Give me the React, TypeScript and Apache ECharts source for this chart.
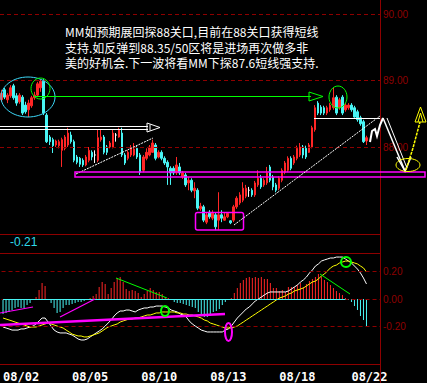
import React, { useEffect, useRef } from 'react';
import * as echarts from 'echarts';

// [open, close, low, high]
const candles: number[][] = [
  [88.71, 88.81, 88.68, 88.86], [88.86, 88.75, 88.72, 88.89], [88.71, 88.78, 88.66, 88.81], [88.77, 88.89, 88.74, 88.93],
  [88.92, 88.74, 88.71, 88.95], [88.77, 88.66, 88.62, 88.81], [88.68, 88.78, 88.65, 88.81], [88.75, 88.51, 88.48, 88.78],
  [88.63, 88.53, 88.50, 88.68], [88.56, 88.66, 88.45, 88.71], [88.62, 88.74, 88.59, 88.77], [88.74, 88.78, 88.71, 88.83],
  [88.78, 88.95, 88.75, 88.98], [88.89, 88.99, 88.83, 89.02], [88.99, 88.51, 88.48, 89.02], [88.48, 88.08, 88.06, 88.51],
  [88.15, 88.08, 88.03, 88.18], [88.11, 88.02, 87.91, 88.14], [88.03, 88.09, 88.00, 88.11], [88.02, 88.08, 87.98, 88.11],
  [87.95, 88.11, 87.70, 88.14], [87.98, 88.15, 87.95, 88.18], [88.03, 88.21, 88.00, 88.29], [88.18, 88.08, 88.05, 88.23],
  [88.08, 87.80, 87.77, 88.11], [87.85, 87.77, 87.74, 87.88], [87.83, 87.74, 87.70, 87.85], [87.80, 87.73, 87.70, 87.83],
  [87.73, 87.85, 87.71, 87.88], [87.80, 87.95, 87.77, 88.00], [87.92, 87.85, 87.80, 87.95], [87.88, 87.88, 87.76, 87.95],
  [87.80, 88.14, 87.77, 88.26], [88.11, 88.15, 88.08, 88.26], [88.15, 87.92, 87.89, 88.18], [88.00, 87.92, 87.88, 88.03],
  [88.00, 88.06, 87.98, 88.09], [88.00, 88.21, 87.98, 88.26], [88.18, 88.18, 88.08, 88.21], [88.15, 88.26, 88.14, 88.29],
  [88.21, 87.88, 87.85, 88.29], [87.88, 87.76, 87.73, 87.91], [87.83, 87.92, 87.80, 87.95], [87.88, 87.98, 87.85, 88.03],
  [87.88, 87.97, 87.86, 88.06], [87.98, 87.85, 87.82, 88.02], [87.88, 87.62, 87.58, 87.91], [87.65, 87.85, 87.62, 87.88],
  [87.83, 87.92, 87.80, 87.98], [87.88, 88.00, 87.86, 88.03], [87.92, 88.06, 87.91, 88.11], [88.03, 87.83, 87.80, 88.06],
  [87.85, 87.92, 87.83, 87.95], [87.92, 87.83, 87.80, 87.95], [87.83, 87.76, 87.73, 87.86], [87.77, 87.70, 87.43, 87.80],
  [87.68, 87.61, 87.43, 87.71], [87.68, 87.61, 87.58, 87.71], [87.61, 87.73, 87.58, 87.85], [87.70, 87.61, 87.58, 87.76],
  [87.55, 87.61, 87.52, 87.64], [87.58, 87.43, 87.40, 87.61], [87.46, 87.50, 87.35, 87.55], [87.50, 87.35, 87.32, 87.53],
  [87.34, 87.38, 87.23, 87.47], [87.35, 87.08, 87.05, 87.38], [87.07, 87.11, 87.04, 87.16], [87.10, 86.90, 86.87, 87.13],
  [86.87, 86.98, 86.84, 87.02], [87.02, 86.95, 86.92, 87.05], [86.93, 87.01, 86.90, 87.05], [86.98, 86.80, 86.75, 87.01],
  [86.90, 86.98, 86.75, 87.32], [86.98, 86.93, 86.87, 87.05], [86.90, 86.95, 86.89, 87.01], [86.95, 87.00, 86.93, 87.02],
  [86.89, 86.86, 86.84, 86.90], [86.90, 87.10, 86.87, 87.13], [87.10, 87.23, 87.07, 87.26], [87.16, 87.28, 87.13, 87.32],
  [87.20, 87.38, 87.17, 87.47], [87.26, 87.38, 87.23, 87.43], [87.35, 87.35, 87.25, 87.40], [87.35, 87.28, 87.25, 87.38],
  [87.28, 87.46, 87.25, 87.49], [87.43, 87.53, 87.40, 87.65], [87.53, 87.40, 87.37, 87.58], [87.43, 87.50, 87.40, 87.53],
  [87.46, 87.61, 87.43, 87.70], [87.70, 87.50, 87.47, 87.73], [87.55, 87.40, 87.35, 87.58], [87.43, 87.35, 87.32, 87.46],
  [87.38, 87.53, 87.35, 87.56], [87.50, 87.65, 87.47, 87.68], [87.62, 87.76, 87.59, 87.79], [87.65, 87.83, 87.62, 87.86],
  [87.83, 87.68, 87.65, 87.86], [87.76, 87.85, 87.73, 87.88], [87.83, 87.98, 87.80, 88.02], [87.88, 88.00, 87.85, 88.06],
  [88.00, 87.88, 87.83, 88.03], [87.98, 87.85, 87.82, 88.02], [87.92, 88.03, 87.91, 88.06], [88.00, 88.29, 87.98, 88.32],
  [88.26, 88.59, 88.23, 88.63], [88.66, 88.51, 88.48, 88.69], [88.60, 88.51, 88.48, 88.63], [88.59, 88.51, 88.48, 88.62],
  [88.51, 88.59, 88.48, 88.62], [88.56, 88.63, 88.53, 88.66], [88.59, 88.74, 88.56, 88.89], [88.75, 88.51, 88.48, 88.78],
  [88.59, 88.71, 88.56, 88.74], [88.75, 88.51, 88.48, 88.78], [88.56, 88.63, 88.53, 88.66], [88.59, 88.63, 88.56, 88.66],
  [88.63, 88.56, 88.53, 88.66], [88.59, 88.45, 88.44, 88.62], [88.53, 88.41, 88.38, 88.56], [88.44, 88.35, 88.32, 88.47],
  [88.38, 88.08, 88.06, 88.41], [88.09, 88.14, 88.03, 88.17],
];

const dif = [
  -0.203, -0.210, -0.217, -0.225, -0.225, -0.225, -0.217, -0.217, -0.210, -0.203,
  -0.196, -0.181, -0.159, -0.138, -0.138, -0.167, -0.196, -0.225, -0.239, -0.246,
  -0.246, -0.246, -0.254, -0.261, -0.275, -0.290, -0.297, -0.297, -0.290, -0.275,
  -0.261, -0.246, -0.232, -0.217, -0.196, -0.174, -0.152, -0.123, -0.101, -0.087,
  -0.087, -0.080, -0.080, -0.087, -0.094, -0.080, -0.072, -0.065, -0.065, -0.058,
  -0.058, -0.051, -0.051, -0.051, -0.058, -0.065, -0.080, -0.087, -0.094, -0.109,
  -0.116, -0.130, -0.159, -0.181, -0.196, -0.210, -0.225, -0.232, -0.239, -0.239,
  -0.239, -0.239, -0.239, -0.239, -0.225, -0.217, -0.196, -0.167, -0.138, -0.116,
  -0.094, -0.072, -0.058, -0.036, -0.014, 0.000, 0.014, 0.029, 0.043, 0.051,
  0.051, 0.051, 0.051, 0.051, 0.051, 0.058, 0.072, 0.087, 0.101, 0.123,
  0.138, 0.159, 0.188, 0.210, 0.239, 0.254, 0.275, 0.283, 0.290, 0.297,
  0.297, 0.304, 0.304, 0.304, 0.290, 0.275, 0.261, 0.239, 0.217, 0.188,
  0.152, 0.109,
];

const dea = [
  -0.138, -0.145, -0.152, -0.159, -0.167, -0.174, -0.181, -0.188, -0.196, -0.203,
  -0.203, -0.203, -0.196, -0.188, -0.181, -0.174, -0.181, -0.188, -0.196, -0.203,
  -0.210, -0.225, -0.239, -0.254, -0.261, -0.268, -0.268, -0.275, -0.275, -0.268,
  -0.261, -0.254, -0.246, -0.232, -0.217, -0.203, -0.196, -0.188, -0.181, -0.167,
  -0.159, -0.152, -0.145, -0.145, -0.138, -0.138, -0.130, -0.123, -0.116, -0.116,
  -0.109, -0.101, -0.101, -0.094, -0.094, -0.094, -0.094, -0.094, -0.101, -0.101,
  -0.109, -0.109, -0.116, -0.116, -0.123, -0.130, -0.138, -0.152, -0.159, -0.174,
  -0.181, -0.188, -0.196, -0.203, -0.210, -0.210, -0.210, -0.203, -0.196, -0.181,
  -0.167, -0.152, -0.138, -0.123, -0.109, -0.094, -0.080, -0.065, -0.051, -0.036,
  -0.022, -0.007, 0.007, 0.014, 0.022, 0.036, 0.043, 0.058, 0.065, 0.072,
  0.080, 0.094, 0.109, 0.123, 0.130, 0.145, 0.167, 0.181, 0.203, 0.225,
  0.239, 0.246, 0.261, 0.268, 0.275, 0.275, 0.268, 0.261, 0.254, 0.239,
  0.225, 0.196,
];

const macdHist = [
  -0.109, -0.101, -0.094, -0.080, -0.065, -0.058, -0.065, -0.065, -0.043, -0.029,
  -0.007, 0.014, 0.065, 0.116, 0.094, -0.007, -0.029, -0.065, -0.101, -0.094,
  -0.065, -0.043, -0.043, -0.036, -0.029, -0.022, -0.022, -0.014, -0.007, 0.007,
  0.022, 0.036, 0.087, 0.123, 0.109, 0.036, 0.080, 0.123, 0.152, 0.159,
  0.123, 0.072, 0.058, 0.065, 0.058, 0.043, 0.014, 0.036, 0.058, 0.080,
  0.065, 0.051, 0.051, 0.036, 0.014, 0.007, -0.007, -0.022, -0.029, -0.029,
  -0.036, -0.043, -0.051, -0.058, -0.065, -0.094, -0.116, -0.130, -0.130, -0.123,
  -0.094, -0.087, -0.072, -0.043, -0.022, -0.007, 0.007, 0.043, 0.080, 0.116,
  0.138, 0.152, 0.159, 0.152, 0.159, 0.152, 0.159, 0.145, 0.145, 0.116,
  0.080, 0.080, 0.058, 0.065, 0.051, 0.087, 0.087, 0.087, 0.101, 0.116,
  0.087, 0.109, 0.130, 0.145, 0.159, 0.181, 0.159, 0.138, 0.123, 0.101,
  0.080, 0.058, 0.043, 0.029, 0.007, -0.007, -0.022, -0.051, -0.080, -0.123,
  -0.152, -0.203,
];

const slotCount = 126;
const dateTickIndex = [6, 29, 52, 75, 98, 122];
const dateTickLabels = ['08/02', '08/05', '08/10', '08/13', '08/18', '08/22'];
const priceTicks = [88, 89, 90];
const macdTicks = [0.2, 0, -0.2];
const macdReadout = '-0.21';
const noteLines = [
  'MM如预期展回探88关口,目前在88关口获得短线',
  '支持.如反弹到88.35/50区将是进场再次做多非',
  '美的好机会.下一波将看MM下探87.6短线强支持.',
];

const PRICE_MIN = 88 - 87 / 66.5;
const PRICE_MAX = 88 + 147 / 66.5;
const MACD_MIN = -65 / 138;
const MACD_MAX = 46 / 138;

const DARK_RED = '#8e0000';
const UP = '#ff2626';
const DOWN = '#48f4f4';

export default function App() {
  const ref = useRef<HTMLDivElement>(null);

  useEffect(() => {
    document.body.style.margin = '0';
    document.body.style.background = '#000';
    const chart = echarts.init(ref.current!, null, { renderer: 'svg' });

    const cats = Array.from({ length: slotCount }, (_, i) => 'c' + i);
    const labelMap: Record<number, string> = {};
    dateTickIndex.forEach((idx, k) => (labelMap[idx] = dateTickLabels[k]));

    const candleData = candles.map((c) =>
      c[0] === c[1]
        ? { value: c, itemStyle: { color: '#fff', color0: '#fff', borderColor: '#fff', borderColor0: '#fff' } }
        : c
    );

    const Z = 100;
    const line = (x1: number, y1: number, x2: number, y2: number, stroke: string, lineWidth = 1, lineDash?: number[]) => ({
      type: 'line', z: Z, silent: true,
      shape: { x1, y1, x2, y2 },
      style: { stroke, lineWidth, lineDash },
    });
    const ellipse = (cx: number, cy: number, rx: number, ry: number, stroke: string, lineWidth = 1) => ({
      type: 'ellipse', z: Z, silent: true,
      shape: { cx, cy, rx, ry },
      style: { fill: 'none', stroke, lineWidth },
    });
    const poly = (type: string, points: number[][], stroke: string, lineWidth = 1, lineDash?: number[]) => ({
      type, z: Z, silent: true,
      shape: { points },
      style: { fill: 'none', stroke, lineWidth, lineDash },
    });

    const elements: any[] = [
      // frame lines
      line(0, 234.5, 380, 234.5, DARK_RED),
      line(0, 253.5, 380, 253.5, DARK_RED),
      line(0, 364.5, 380, 364.5, DARK_RED),
      line(380.5, 0, 380.5, 383, DARK_RED),
      // header note
      ...noteLines.map((t, k) => ({
        type: 'text', z: Z, silent: true, x: 65, y: 31.5 + k * 15.7,
        style: { text: t, fill: '#ffffff', fontSize: 12, fontFamily: '"Noto Sans CJK SC"', verticalAlign: 'middle' },
      })),
      {
        type: 'text', z: Z, silent: true, x: 10, y: 242,
        style: { text: macdReadout, fill: '#2ed8e8', fontSize: 12, fontFamily: '"Liberation Sans"', verticalAlign: 'middle' },
      },
      // price pane drawings
      ellipse(28, 97, 27, 20, '#3cd8f8'),
      ellipse(40.5, 88.5, 9.5, 10.5, '#00ff00'),
      line(34, 96.5, 311, 96.5, '#00ff00'),
      poly('polygon', [[309, 92], [323, 96.5], [309, 101]], '#00ff00'),
      line(0, 126.5, 148, 126.5, '#ffffff'),
      line(0, 129.5, 148, 129.5, '#ffffff'),
      poly('polygon', [[147, 123], [160, 127.5], [147, 132]], '#ffffff'),
      poly('polyline', [[150, 124.5], [150, 130.5]], '#ffffff'),
      line(76, 174, 153, 138, '#ffffff', 1, [2, 1]),
      {
        type: 'rect', z: Z, silent: true,
        shape: { x: 75, y: 172, width: 350, height: 5 },
        style: { fill: 'none', stroke: '#ff00ff', lineWidth: 1.5 },
      },
      {
        type: 'rect', z: Z, silent: true,
        shape: { x: 195.5, y: 212.5, width: 48, height: 17.5, r: 2 },
        style: { fill: 'none', stroke: '#ff00ff', lineWidth: 1.5 },
      },
      line(234, 225, 380, 116, '#ffffff', 1, [2, 1]),
      line(314, 118.5, 380, 118.5, '#ffffff'),
      ellipse(338, 97, 9, 11, '#00ff00'),
      poly('polyline', [[370, 142], [372, 131], [375, 129], [377, 136], [380, 125], [383, 118]], '#ffffff', 2),
      line(383, 118, 405, 171, '#ffffff', 1.5),
      line(387, 118, 407, 168, '#ffffff', 1),
      poly('polyline', [[397, 157], [405, 171], [411, 157]], '#ffffff', 1.5),
      ellipse(408, 165, 12, 6.5, '#ffff00'),
      poly('polyline', [[406, 170], [413, 148], [420, 122]], '#ffff00', 1.5, [3, 1]),
      poly('polygon', [[415, 122], [420.5, 107], [426, 122]], '#ffff00'),
      poly('polyline', [[418, 122], [420.5, 113], [423, 122]], '#ffff00'),
      // MACD pane drawings
      line(0, 313, 33, 307, '#ff00ff', 1.2),
      line(60, 317, 95, 299, '#ff00ff', 1.2),
      line(0, 325, 225, 314, '#ff00ff', 2.5),
      ellipse(228.5, 332, 3.5, 9, '#ff00ff', 2),
      ellipse(165, 311, 4, 5, '#00ff00', 2),
      line(116, 278, 167, 298, '#00ff00', 1),
      line(320, 274, 350, 294, '#00ff00', 1),
      ellipse(346, 262, 5, 5, '#00ff00', 2),
    ];

    const option: any = {
      backgroundColor: '#000000',
      animation: false,
      textStyle: { fontFamily: '"Liberation Sans"' },
      grid: [
        { left: 0, top: 0, width: 380, height: 234 },
        { left: 0, top: 253, width: 380, height: 111 },
      ],
      xAxis: [
        {
          type: 'category', gridIndex: 0, data: cats, boundaryGap: true,
          axisLine: { show: false }, axisTick: { show: false }, axisLabel: { show: false }, splitLine: { show: false },
        },
        {
          type: 'category', gridIndex: 1, data: cats, boundaryGap: true,
          axisLine: { show: false }, axisTick: { show: false }, splitLine: { show: false },
          axisLabel: {
            show: true, interval: 0, hideOverlap: false, margin: 7,
            color: '#ffffff', fontFamily: '"DejaVu Sans Mono"', fontWeight: 'bold', fontSize: 12,
            formatter: (_v: string, idx: number) => labelMap[idx] || '',
          },
        },
      ],
      yAxis: [
        { type: 'value', gridIndex: 0, min: PRICE_MIN, max: PRICE_MAX, show: false, splitLine: { show: false } },
        { type: 'value', gridIndex: 1, min: MACD_MIN, max: MACD_MAX, show: false, splitLine: { show: false } },
      ],
      series: [
        {
          type: 'candlestick', xAxisIndex: 0, yAxisIndex: 0,
          barWidth: 2,
          data: candleData,
          itemStyle: { color: UP, color0: DOWN, borderColor: UP, borderColor0: DOWN, borderWidth: 1 },
          markLine: {
            silent: true, symbol: ['none', 'none'], animation: false,
            lineStyle: { color: DARK_RED, type: [4, 3], width: 1 },
            label: {
              position: 'end', distance: 3, color: DARK_RED, fontSize: 10, fontFamily: '"Liberation Sans"',
              formatter: (p: any) => Number(p.value).toFixed(2),
            },
            data: priceTicks.map((v) => ({ yAxis: v })),
          },
          z: 3,
        },
        {
          type: 'bar', xAxisIndex: 1, yAxisIndex: 1, barWidth: 1,
          data: macdHist.map((v) => ({ value: v, itemStyle: { color: v >= 0 ? UP : DOWN } })),
          markLine: {
            silent: true, symbol: ['none', 'none'], animation: false,
            lineStyle: { color: DARK_RED, type: [4, 3], width: 1 },
            label: {
              position: 'end', distance: 3, color: DARK_RED, fontSize: 10, fontFamily: '"Liberation Sans"',
              formatter: (p: any) => Number(p.value).toFixed(2),
            },
            data: [
              ...macdTicks.map((v) => ({ yAxis: v })),
              [
                { coord: [0, 0], lineStyle: { color: DOWN, type: 'solid', width: 1 }, label: { show: false } },
                { coord: [114, 0] },
              ],
            ],
          },
        },
        {
          type: 'line', xAxisIndex: 1, yAxisIndex: 1, data: dif, symbol: 'none',
          lineStyle: { color: '#ffffff', width: 1 }, z: 4,
        },
        {
          type: 'line', xAxisIndex: 1, yAxisIndex: 1, data: dea, symbol: 'none',
          lineStyle: { color: '#ffff00', width: 1 }, z: 4,
        },
      ],
      graphic: { elements },
    };

    chart.setOption(option);
    return () => chart.dispose();
  }, []);

  return <div ref={ref} style={{ width: 427, height: 383, background: '#000' }} />;
}
